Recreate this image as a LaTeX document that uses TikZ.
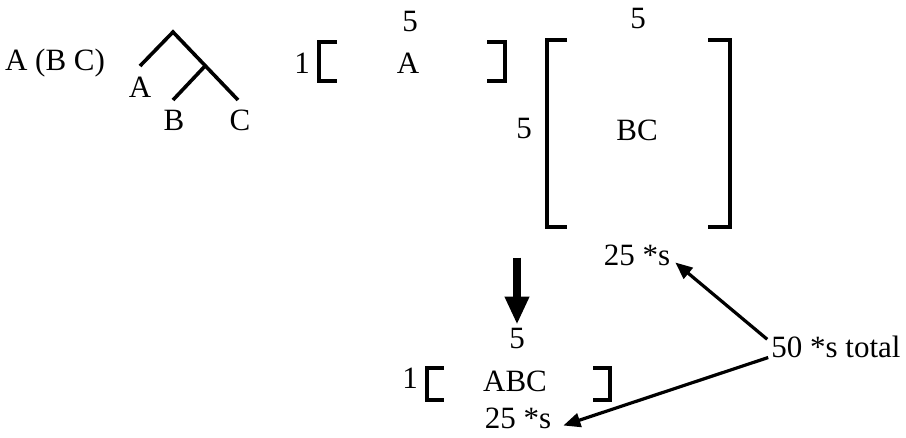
\documentclass[tikz,border=0pt]{standalone}
\usepackage{fontspec}
\setmainfont{Liberation Serif}
\usetikzlibrary{arrows.meta}
\tikzset{
  lbl/.style={inner sep=0pt, anchor=base, font=\fontsize{31}{37}\selectfont},
  brk/.style={line width=3.4pt, line cap=butt, line join=miter},
  treeline/.style={line width=3.6pt},
  thinarr/.style={line width=3.2pt, -{Triangle[length=17pt,width=14pt]}},
  bigarr/.style={line width=8pt, -{Triangle[length=28pt,width=23pt]}}
}
\begin{document}
\begin{tikzpicture}[x=1pt,y=-1pt]
\useasboundingbox (0,0) rectangle (906,437);
% expression
\node[lbl] (expr) at (55,70) {A (B C)};
% tree
\coordinate (root) at (173,32);
\coordinate (legA) at (140,66);
\coordinate (sub) at (206,65);
\coordinate (legB) at (173,100);
\coordinate (legC) at (238,100);
\draw[treeline] (legA) -- (root) -- (legC);
\draw[treeline] (sub) -- (legB);
\node[lbl] (tA) at (140,97) {A};
\node[lbl] (tB) at (174,130) {B};
\node[lbl] (tC) at (240,130) {C};
% matrix A
\node[lbl] (a5) at (410,31) {5};
\node[lbl] (a1) at (302,73) {1};
\node[lbl] (aA) at (408,73) {A};
\draw[brk] (337,42) -- (319,42) -- (319,81) -- (337,81);
\draw[brk] (487,42) -- (505,42) -- (505,81) -- (487,81);
% matrix BC
\node[lbl] (bc5t) at (638,28) {5};
\node[lbl] (bc5l) at (524,138) {5};
\node[lbl] (bc) at (637,140) {BC};
\draw[brk] (567,40) -- (547,40) -- (547,227) -- (567,227);
\draw[brk] (708,40) -- (730,40) -- (730,227) -- (708,227);
\node[lbl] (s1) at (637,265) {25 *s};
% result
\node[lbl] (r5) at (517,348) {5};
\node[lbl] (r1) at (410,388) {1};
\node[lbl] (abc) at (515,391) {ABC};
\draw[brk] (444,368) -- (427,368) -- (427,400) -- (444,400);
\draw[brk] (593,368) -- (610,368) -- (610,400) -- (593,400);
\node[lbl] (s2) at (518,428) {25 *s};
\node[lbl] (tot) at (836,357) {50 *s total};
% arrows
\draw[bigarr] ([yshift=70pt]r5.north) -- ([yshift=3pt]r5.north);
\draw[thinarr] ([xshift=-4pt,yshift=-4pt]tot.north west) -- ([xshift=5pt,yshift=3pt]s1.south east);
\draw[thinarr] ([xshift=-3pt,yshift=0pt]tot.south west) -- ([xshift=12pt,yshift=3pt]s2.south east);
\end{tikzpicture}
\end{document}
